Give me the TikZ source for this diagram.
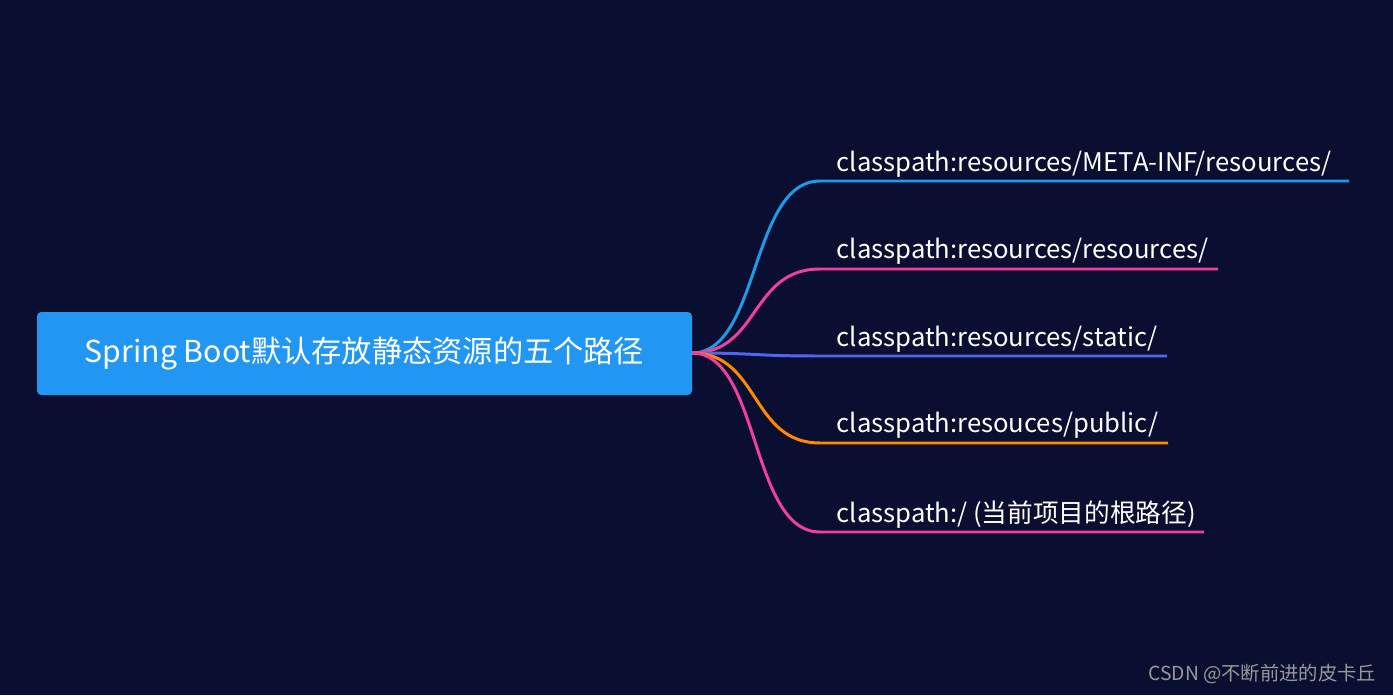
\documentclass[tikz,border=0pt]{standalone}
\usepackage{fontspec}
\setmainfont{Noto Sans CJK SC}
\definecolor{bg}{HTML}{0A0E30}
\definecolor{rootc}{HTML}{2196F3}
\definecolor{cA}{HTML}{1E9BE8}
\definecolor{cB}{HTML}{F0409A}
\definecolor{cC}{HTML}{5064F5}
\definecolor{cD}{HTML}{FF8A00}
\tikzset{
 leaf/.style={anchor=base west,text=white,font=\fontsize{7.3pt}{8.5pt}\selectfont,inner sep=0pt},
 br/.style={line width=0.85pt}
}
\begin{document}
\begin{tikzpicture}
\fill[bg] (0,0) rectangle (13.93,6.95);
\useasboundingbox (0,0) rectangle (13.93,6.95);
\node[fill=rootc,rounded corners=1.2pt,minimum width=6.55cm,minimum height=0.83cm,text=white,font=\fontsize{8.6pt}{9.5pt}\selectfont] (root) at (3.645,3.415) {Spring Boot默认存放静态资源的五个路径};
\coordinate (s) at (6.92,3.42);
\foreach \y/\xe/\c/\t/\n in {1.81/13.49/cA/{classpath:resources/META-INF/resources/}/a,
 2.69/12.18/cB/{classpath:resources/resources/}/b,
 3.56/11.67/cC/{classpath:resources/static/}/c,
 4.43/11.68/cD/{classpath:resouces/public/}/d,
 5.32/12.04/cB/{classpath:/ (当前项目的根路径)}/e}{
 \coordinate (l\n) at (8.2,{6.95-\y});
 \coordinate (r\n) at (\xe,{6.95-\y});
 \draw[br,\c] (s) .. controls (7.6,3.42) and (7.5,{6.95-\y}) .. (l\n) -- (r\n);
 \node[leaf] (t\n) at (8.36,{6.95-\y+0.1}) {\t};
}
\node[anchor=base east,text=gray!80,font=\fontsize{5.5pt}{6pt}\selectfont,inner sep=0pt] (wm) at (13.77,0.15) {CSDN @不断前进的皮卡丘};
\end{tikzpicture}
\end{document}
